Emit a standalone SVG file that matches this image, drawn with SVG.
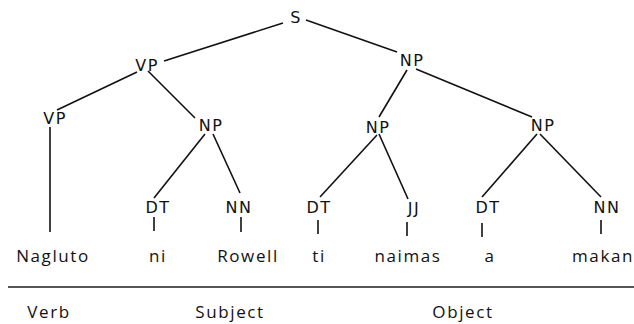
<svg xmlns="http://www.w3.org/2000/svg" width="634" height="324" viewBox="0 0 634 324">
<style>
.lab{font-family:"DejaVu Sans",Verdana,sans-serif;font-size:16px;letter-spacing:1.5px;fill:#111;text-anchor:middle}
.word{font-family:"Open Sans","DejaVu Sans",sans-serif;font-size:17px;letter-spacing:1.6px;fill:#111;text-anchor:middle}
.edge{stroke:#111;stroke-width:1.6;fill:none}
</style>
<rect width="634" height="324" fill="#fff"/>
<g id="connectors">
<line class="edge" x1="283" y1="23" x2="164" y2="61"/>
<line class="edge" x1="306" y1="20" x2="397" y2="52"/>
<line class="edge" x1="137" y1="72" x2="57" y2="110"/>
<line class="edge" x1="148" y1="71" x2="195" y2="118"/>
<line class="edge" x1="50" y1="127" x2="50" y2="232"/>
<line class="edge" x1="205" y1="134" x2="154" y2="198"/>
<line class="edge" x1="213" y1="134" x2="240" y2="193"/>
<line class="edge" x1="154" y1="217" x2="154" y2="231"/>
<line class="edge" x1="241" y1="217" x2="241" y2="232"/>
<line class="edge" x1="407" y1="70" x2="379" y2="117"/>
<line class="edge" x1="416" y1="69" x2="532" y2="117"/>
<line class="edge" x1="377" y1="135" x2="320" y2="197"/>
<line class="edge" x1="379" y1="134" x2="408" y2="199"/>
<line class="edge" x1="537" y1="134" x2="482" y2="197"/>
<line class="edge" x1="540" y1="134" x2="601" y2="197"/>
<line class="edge" x1="318" y1="220" x2="318" y2="234"/>
<line class="edge" x1="407" y1="222" x2="407" y2="236"/>
<line class="edge" x1="482" y1="223" x2="482" y2="237"/>
<line class="edge" x1="601" y1="220" x2="601" y2="234"/>
</g>
<g id="n-S"><text class="lab" x="296" y="23">S</text></g>
<g id="n-VP1"><text class="lab" x="147" y="71">VP</text></g>
<g id="n-NP1"><text class="lab" x="412" y="66">NP</text></g>
<g id="n-VP2"><text class="lab" x="55" y="124">VP</text></g>
<g id="n-NP2"><text class="lab" x="211" y="131">NP</text></g>
<g id="n-NP3"><text class="lab" x="378" y="133">NP</text></g>
<g id="n-NP4"><text class="lab" x="543" y="131">NP</text></g>
<g id="n-DT1"><text class="lab" x="158" y="213">DT</text></g>
<g id="n-NN1"><text class="lab" x="239" y="213">NN</text></g>
<g id="n-DT2"><text class="lab" x="319" y="213">DT</text></g>
<g id="n-JJ"><text class="lab" x="414" y="214">JJ</text></g>
<g id="n-DT3"><text class="lab" x="488" y="213">DT</text></g>
<g id="n-NN2"><text class="lab" x="607" y="213">NN</text></g>
<g id="w-Nagluto"><text class="word" x="53" y="262">Nagluto</text></g>
<g id="w-ni"><text class="word" x="158" y="262">ni</text></g>
<g id="w-Rowell"><text class="word" x="248" y="262">Rowell</text></g>
<g id="w-ti"><text class="word" x="319" y="262">ti</text></g>
<g id="w-naimas"><text class="word" x="408" y="262">naimas</text></g>
<g id="w-a"><text class="word" x="490" y="262">a</text></g>
<g id="w-makan"><text class="word" x="603" y="262">makan</text></g>
<line x1="8" y1="287" x2="634" y2="287" stroke="#555" stroke-width="2"/>
<g id="r-Verb"><text class="word" x="49" y="318">Verb</text></g>
<g id="r-Subject"><text class="word" x="230" y="318">Subject</text></g>
<g id="r-Object"><text class="word" x="463" y="318">Object</text></g>
</svg>
